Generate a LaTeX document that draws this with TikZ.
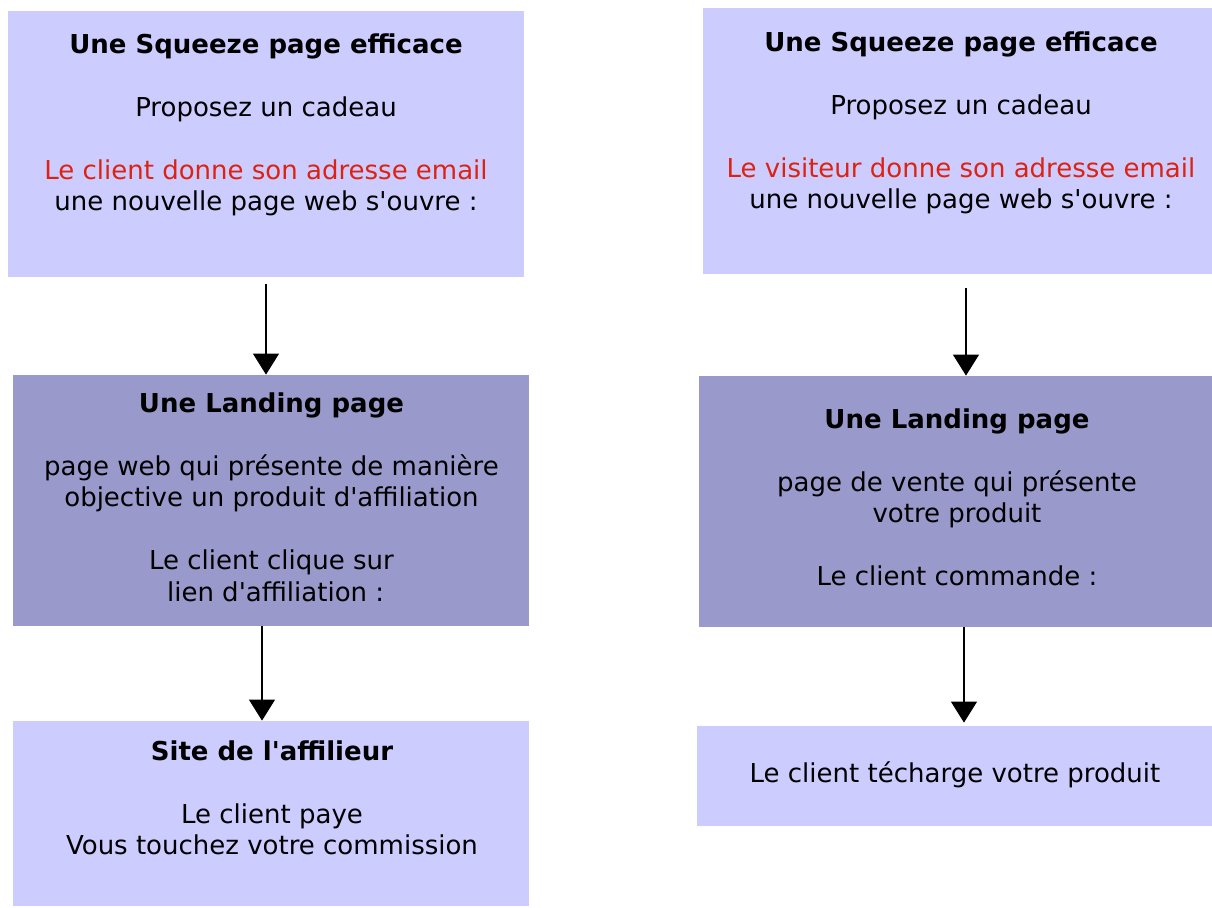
\documentclass[tikz,border=0pt]{standalone}
\usepackage{fontspec}
\newfontfamily\dejavu{DejaVu Sans}
\usetikzlibrary{arrows.meta}
\definecolor{boxlight}{RGB}{204,204,255}
\definecolor{boxdark}{RGB}{153,153,204}
\definecolor{emailred}{RGB}{221,34,17}
\newcommand{\boxlines}[1]{\begin{tabular}[t]{@{}c@{}}#1\end{tabular}}

\begin{document}
\begin{tikzpicture}[x=0.5pt,y=-0.5pt,
		every node/.style={inner sep=0pt},
		light/.style={fill=boxlight, draw=none},
		dark/.style={fill=boxdark, draw=none},
		txt/.style={anchor=base, font=\dejavu\fontsize{13}{15.75}\selectfont},
		flow/.style={draw=black, line width=0.6pt, -{Triangle[length=10.5pt,width=13pt]}}]
		\useasboundingbox (0,0) rectangle (1212,907);
		% left column
		\node [light, minimum width=258pt, minimum height=133pt] (sqzA) at (266,144) {};
		\node [txt] (sqzAtxt) at (266,53) {\boxlines{\textbf{Une Squeeze page efficace}\\[15.75pt]
			Proposez un cadeau\\[15.75pt]
			\textcolor{emailred}{Le client donne son adresse email}\\
			une nouvelle page web s'ouvre :}};
		\node [dark, minimum width=258pt, minimum height=125.5pt] (landA) at (271,500.5) {};
		\node [txt] (landAtxt) at (271.5,412) {\boxlines{\textbf{Une Landing page}\\[15.75pt]
			page web qui présente de manière\\
			objective un produit d'affiliation\\[15.75pt]
			Le client clique sur\\
			\ lien d'affiliation :}};
		\node [light, minimum width=258pt, minimum height=92.5pt] (siteA) at (271,813.5) {};
		\node [txt] (siteAtxt) at (272,760) {\boxlines{\textbf{Site de l'affilieur}\\[15.75pt]
			Le client paye\\
			Vous touchez votre commission}};
		% right column
		\node [light, minimum width=254.5pt, minimum height=133pt] (sqzB) at (957.5,141) {};
		\node [txt] (sqzBtxt) at (961,51) {\boxlines{\textbf{Une Squeeze page efficace}\\[15.75pt]
			Proposez un cadeau\\[15.75pt]
			\textcolor{emailred}{Le visiteur donne son adresse email}\\
			une nouvelle page web s'ouvre :}};
		\node [dark, minimum width=256.5pt, minimum height=125.5pt] (landB) at (955.5,501.5) {};
		\node [txt] (landBtxt) at (957,428) {\boxlines{\textbf{Une Landing page}\\[15.75pt]
			page de vente qui présente\\
			votre produit\\[15.75pt]
			Le client commande :}};
		\node [light, minimum width=257.5pt, minimum height=50pt] (dlB) at (954.5,776) {};
		\node [txt] (dlBtxt) at (955,782) {\boxlines{Le client técharge votre produit}};
		% arrows
		\draw [flow] ([yshift=-3.5pt]sqzA.south) -- (sqzA.south |- landA.north);
		\draw [flow] ([xshift=-4.5pt]landA.south) -- ([xshift=-4.5pt]landA.south |- siteA.north);
		\draw [flow] ([xshift=4.25pt,yshift=-7pt]sqzB.south) -- ([xshift=4.25pt]sqzB.south |- landB.north);
		\draw [flow, shorten >=1.5pt] ([xshift=4.25pt]landB.south) -- ([xshift=4.25pt]landB.south |- dlB.north);
\end{tikzpicture}
\end{document}
